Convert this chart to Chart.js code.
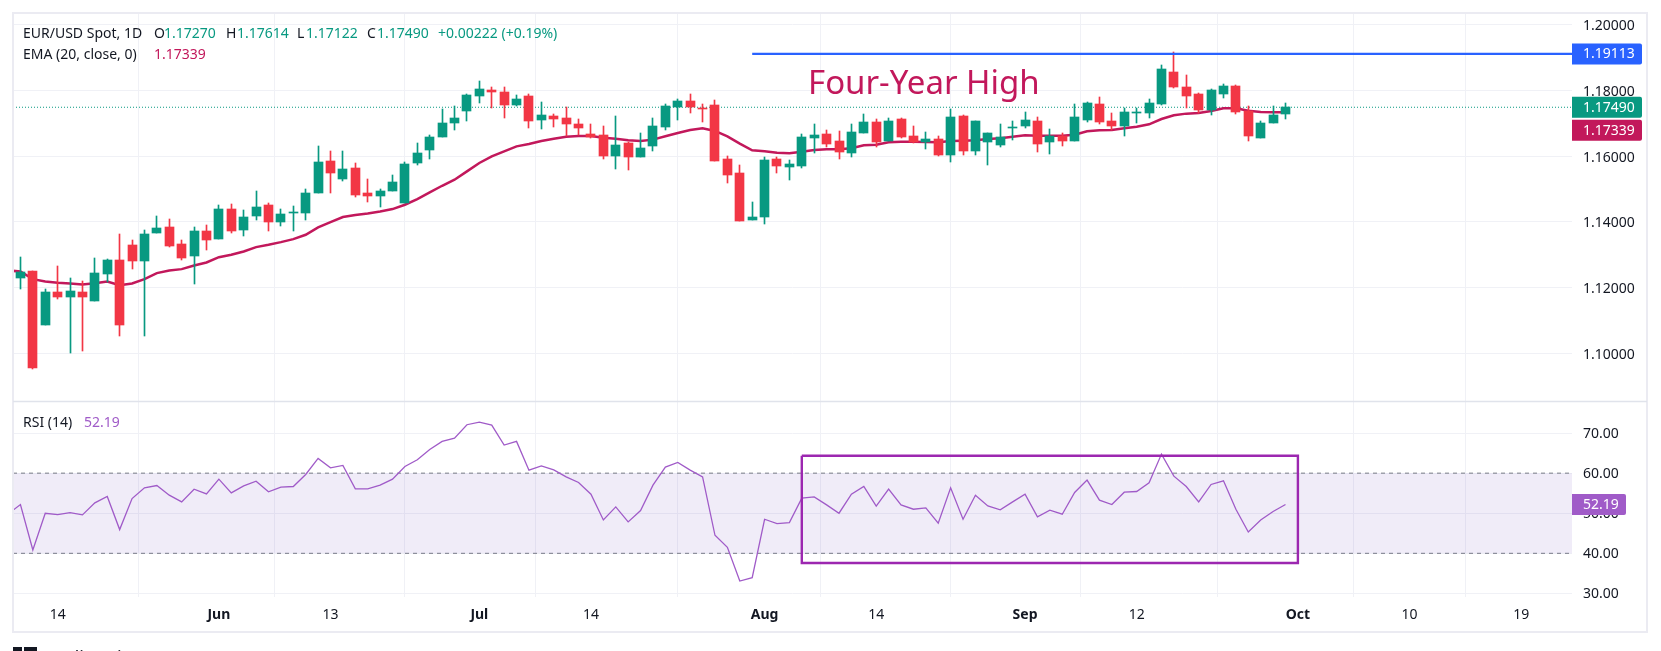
<!DOCTYPE html>
<html><head><meta charset="utf-8">
<style>html,body{margin:0;padding:0;background:#fff}canvas{display:block}</style>
<script src="https://cdn.jsdelivr.net/npm/chart.js@4"></script>
</head><body><canvas id="c" width="1661" height="651"></canvas>
<script>
const tickIndex=[3,16,25,37,46,60,69,81,90,103,112,121];
const tickLabels=['14','Jun','13','Jul','14','Aug','14','Sep','12','Oct','10','19'];
const monthLabels=['Jun','Jul','Aug','Sep','Oct'];
const opens=[1.12276,1.12510,1.10873,1.11869,1.11727,1.11869,1.11605,1.12418,1.12845,1.13303,
1.12794,1.13648,1.13851,1.13333,1.12947,1.13729,1.13465,1.14400,1.13739,1.14166,
1.14522,1.13983,1.14257,1.14257,1.14867,1.15863,1.15314,1.15649,1.14887,1.14776,
1.14928,1.14562,1.15781,1.16178,1.16575,1.17001,1.17367,1.17824,1.18028,1.17967,
1.17570,1.17845,1.17092,1.17235,1.17174,1.16991,1.16687,1.16656,1.15996,1.16412,
1.15965,1.16300,1.16899,1.17509,1.17692,1.17448,1.17570,1.15924,1.15497,1.14064,
1.14156,1.15924,1.15680,1.15710,1.16565,1.16687,1.16473,1.16107,1.16717,1.17052,
1.16473,1.17143,1.16626,1.16443,1.16534,1.16046,1.17235,1.16168,1.16443,1.16351,
1.16849,1.16930,1.17082,1.16443,1.16626,1.16473,1.17113,1.17601,1.17082,1.16930,
1.17326,1.17326,1.17601,1.18577,1.18119,1.17906,1.17418,1.17906,1.18150,1.17387,
1.16565,1.17021,1.17270];
const highs=[1.12936,1.12510,1.11961,1.12662,1.12296,1.12205,1.12906,1.12875,1.13638,1.13455,
1.13760,1.14186,1.14095,1.13455,1.13851,1.13912,1.14522,1.14552,1.14369,1.14948,
1.14583,1.14400,1.14491,1.15009,1.16321,1.16168,1.16168,1.15802,1.15314,1.15009,
1.15436,1.15832,1.16412,1.16656,1.17448,1.17540,1.17906,1.18302,1.18119,1.18119,
1.17876,1.17906,1.17662,1.17296,1.17509,1.17143,1.16991,1.16930,1.17235,1.16443,
1.16717,1.17174,1.17601,1.17754,1.17906,1.17601,1.17723,1.16016,1.15741,1.14613,
1.15985,1.15985,1.15894,1.16687,1.16991,1.16808,1.16778,1.16991,1.17296,1.17143,
1.17174,1.17174,1.16930,1.16748,1.16626,1.17448,1.17266,1.17082,1.16717,1.16991,
1.17082,1.17357,1.17205,1.16839,1.16717,1.17601,1.17662,1.17814,1.17326,1.17479,
1.17479,1.17754,1.18790,1.19187,1.18486,1.17937,1.18058,1.18211,1.18180,1.17540,
1.17082,1.17540,1.17614];
const lows=[1.11971,1.09522,1.10873,1.11666,1.10019,1.10070,1.11605,1.12174,1.10538,1.12571,
1.10538,1.13648,1.13241,1.12845,1.12113,1.13150,1.13465,1.13668,1.13577,1.14064,
1.13729,1.13881,1.13729,1.14064,1.14867,1.14887,1.15253,1.14766,1.14613,1.14461,
1.14928,1.14562,1.15741,1.15924,1.16575,1.16808,1.17082,1.17631,1.17479,1.17174,
1.17540,1.16869,1.16839,1.16899,1.16626,1.16656,1.16565,1.15924,1.15619,1.15588,
1.15965,1.16168,1.16808,1.17113,1.17326,1.17052,1.15863,1.15192,1.14034,1.14064,
1.13943,1.15497,1.15283,1.15649,1.16107,1.16290,1.15924,1.15985,1.16717,1.16290,
1.16473,1.16565,1.16412,1.16229,1.16016,1.15832,1.16046,1.16046,1.15741,1.16290,
1.16483,1.16869,1.16138,1.16077,1.16321,1.16473,1.17052,1.16991,1.16808,1.16626,
1.17021,1.17174,1.17570,1.18089,1.17479,1.17326,1.17266,1.17784,1.17296,1.16473,
1.16565,1.17021,1.17122];
const closes=[1.12479,1.09552,1.11869,1.11727,1.11900,1.11727,1.12449,1.12845,1.10873,1.12794,
1.13638,1.13821,1.13272,1.12906,1.13729,1.13455,1.14400,1.13729,1.14156,1.14461,
1.13983,1.14247,1.14278,1.14887,1.15832,1.15476,1.15619,1.14806,1.14776,1.14948,
1.15223,1.15771,1.16107,1.16595,1.17021,1.17174,1.17876,1.18058,1.17967,1.17550,
1.17754,1.17062,1.17266,1.17143,1.16991,1.16869,1.16595,1.15996,1.16351,1.15965,
1.16260,1.16930,1.17540,1.17692,1.17509,1.17428,1.15863,1.15436,1.14034,1.14156,
1.15894,1.15710,1.15771,1.16595,1.16656,1.16382,1.16138,1.16748,1.17052,1.16443,
1.17082,1.16595,1.16443,1.16534,1.16046,1.17205,1.16168,1.17082,1.16717,1.16585,
1.16869,1.17113,1.16382,1.16626,1.16473,1.17205,1.17631,1.17052,1.16930,1.17357,
1.17347,1.17631,1.18668,1.18119,1.17845,1.17418,1.18028,1.18150,1.17357,1.16626,
1.17021,1.17266,1.17490];
const ema=[1.12490,1.12256,1.12184,1.12144,1.12123,1.12093,1.12133,1.12184,1.12072,1.12123,
1.12256,1.12439,1.12520,1.12561,1.12673,1.12764,1.12926,1.12997,1.13099,1.13231,
1.13303,1.13384,1.13475,1.13607,1.13831,1.13994,1.14146,1.14207,1.14257,1.14319,
1.14390,1.14522,1.14694,1.14897,1.15100,1.15283,1.15537,1.15792,1.15996,1.16148,
1.16300,1.16371,1.16463,1.16534,1.16595,1.16616,1.16616,1.16565,1.16534,1.16483,
1.16463,1.16504,1.16605,1.16707,1.16798,1.16849,1.16768,1.16605,1.16382,1.16178,
1.16148,1.16107,1.16087,1.16138,1.16189,1.16209,1.16209,1.16240,1.16331,1.16351,
1.16422,1.16443,1.16443,1.16433,1.16422,1.16463,1.16473,1.16483,1.16524,1.16544,
1.16595,1.16636,1.16626,1.16626,1.16626,1.16656,1.16758,1.16788,1.16798,1.16849,
1.16899,1.16971,1.17133,1.17245,1.17296,1.17316,1.17377,1.17458,1.17458,1.17387,
1.17347,1.17336,1.17339];
const rsi=[52.17,40.83,50.00,49.67,50.17,49.58,52.58,54.17,45.92,53.67,
56.33,56.92,54.50,52.83,56.00,54.83,58.50,55.08,56.83,58.00,
55.33,56.50,56.67,59.67,63.67,61.33,61.92,56.08,56.08,57.00,
58.50,61.67,63.33,65.92,67.92,68.75,72.08,72.75,72.00,67.00,
67.92,60.75,61.83,60.83,59.08,57.67,54.75,48.33,51.58,47.83,
50.67,57.00,61.50,62.67,60.75,59.08,44.50,41.50,33.08,33.92,
48.50,47.42,47.67,53.75,54.08,52.08,50.00,54.75,56.67,51.75,
56.00,52.08,51.00,51.33,47.50,56.33,48.50,54.50,51.83,50.83,
52.83,54.75,49.08,50.75,49.75,55.17,58.25,53.25,52.17,55.25,
55.42,57.58,64.75,59.25,56.67,52.83,57.17,58.08,51.00,45.33,
48.33,50.42,52.19];
const emaBefore=1.12520, rsiBefore=49.8;
const resistance=1.19113, resistanceStart=59;
const lastClose=1.17490, lastEma=1.17339, lastRsi=52.19;
const boxLeft=63, boxRight=103, boxTop=64.33, boxBottom=37.58;
const rsiUpper=60, rsiLower=40;

const UP='#089981', DOWN='#F23645', INK='#131722', EMA='#C2185B', RSI='#A05BC8', BLUE='#2962FF', BOX='#9C27B0';
const FONT='"Noto Sans"';
const XMIN=-0.6, XMAX=125.1;
const idx=opens.map((_,i)=>i);
const colors=idx.map(i=>closes[i]>=opens[i]?UP:DOWN);
const fullSpan=(v)=>[{x:XMIN,y:v},{x:XMAX,y:v}];
const fitY=(s)=>{s.width=75;s.paddingTop=0;s.paddingBottom=0;};

const overlay={id:'overlay',
 afterDatasetsUpdate(ch){
  [0,1].forEach(d=>ch.getDatasetMeta(d).data.forEach(el=>{
    el.x=Math.floor(el.x)+0.5;
    el.y=Math.round(el.y);el.base=Math.round(el.base);
    if(el.y===el.base)el.base=el.y+1;
  }));
 },
 afterDraw(ch){
  const c=ch.ctx,a=ch.chartArea,y=ch.scales.y,y2=ch.scales.y2;
  c.save();
  c.strokeStyle='#EBEBF2';c.lineWidth=2;
  c.strokeRect(13,13,1634,619);
  c.strokeStyle='#E0E3EB';c.lineWidth=1.5;
  c.beginPath();c.moveTo(13,401.5);c.lineTo(1647,401.5);c.stroke();
  const tag=(txt,cy,col,w)=>{
    c.fillStyle=col;c.beginPath();c.roundRect(a.right,cy-10.5,w,21,[0,2,2,0]);c.fill();
    c.fillStyle='#fff';c.font='14px '+FONT;c.textAlign='left';c.textBaseline='middle';
    c.fillText(txt,1583,cy+0.5);
  };
  const pc=y.getPixelForValue(lastClose);
  tag(resistance.toFixed(5),y.getPixelForValue(resistance),BLUE,70);
  tag(lastClose.toFixed(5),pc,UP,70);
  tag(lastEma.toFixed(5),pc+23,EMA,70);
  tag(lastRsi.toFixed(2),y2.getPixelForValue(lastRsi),RSI,54);
  c.textBaseline='middle';c.textAlign='left';c.font='14px '+FONT;
  const seg=(t,x,yy,col)=>{c.fillStyle=col;c.fillText(t,x,yy);};
  seg('EUR/USD Spot, 1D',23,34,INK);
  seg('O',154,34,INK);seg('1.17270',164,34,UP);
  seg('H',226,34,INK);seg('1.17614',237,34,UP);
  seg('L',297,34,INK);seg('1.17122',306,34,UP);
  seg('C',367,34,INK);seg('1.17490',377,34,UP);
  seg('+0.00222 (+0.19%)',438,34,UP);
  seg('EMA (20, close, 0)',23,55,INK);seg('1.17339',154,55,EMA);
  seg('RSI (14)',23,423,INK);seg('52.19',84,423,RSI);
  c.font='33px '+FONT;c.fillStyle=EMA;c.textBaseline='alphabetic';
  c.fillText('Four-Year High',808,94);
  c.fillStyle=INK;
  c.fillRect(13,647,9,4);c.fillRect(24,647,13,4);
  c.font='18px '+FONT;
  c.fillText('TradingView',42,664);
  c.restore();
}};

new Chart(document.getElementById('c'),{
  type:'bar',
  plugins:[overlay],
  data:{datasets:[
    {label:'Body',yAxisID:'y',order:1,grouped:false,barThickness:9,minBarLength:1,
     data:idx.map(i=>({x:i,y:[opens[i],closes[i]]})),backgroundColor:colors,borderWidth:0},
    {label:'Wick',yAxisID:'y',order:2,grouped:false,barThickness:1,
     data:idx.map(i=>({x:i,y:[lows[i],highs[i]]})),backgroundColor:colors,borderWidth:0},
    {label:'EMA (20)',type:'line',yAxisID:'y',order:3,
     data:[{x:-1,y:emaBefore}].concat(idx.map(i=>({x:i,y:ema[i]}))),
     borderColor:EMA,borderWidth:2.5,pointRadius:0,tension:0},
    {label:'Last',type:'line',yAxisID:'y',order:4,data:fullSpan(lastClose),
     borderColor:UP,borderWidth:1,borderDash:[1,2],pointRadius:0},
    {label:'Four-Year High',type:'line',yAxisID:'y',order:0,
     data:[{x:resistanceStart,y:resistance},{x:XMAX,y:resistance}],
     borderColor:BLUE,borderWidth:2.2,pointRadius:0},
    {label:'RSI',type:'line',yAxisID:'y2',order:3,
     data:[{x:-1,y:rsiBefore}].concat(idx.map(i=>({x:i,y:rsi[i]}))),
     borderColor:RSI,borderWidth:1.3,pointRadius:0,tension:0},
    {label:'Box',type:'line',yAxisID:'y2',order:0,
     data:[{x:boxLeft,y:boxTop},{x:boxRight,y:boxTop},{x:boxRight,y:boxBottom},{x:boxLeft,y:boxBottom},{x:boxLeft,y:boxTop}],
     borderColor:BOX,borderWidth:2.4,pointRadius:0,borderJoinStyle:'miter',tension:0},
    {label:'Upper',type:'line',yAxisID:'y2',order:5,data:fullSpan(rsiUpper),
     borderColor:'#787B86',borderWidth:1,borderDash:[4,4],pointRadius:0,
     fill:{value:rsiLower},backgroundColor:'rgba(126,87,194,0.115)'},
    {label:'Lower',type:'line',yAxisID:'y2',order:5,data:fullSpan(rsiLower),
     borderColor:'#787B86',borderWidth:1,borderDash:[4,4],pointRadius:0}
  ]},
  options:{
    responsive:false,animation:false,devicePixelRatio:1,
    layout:{padding:{left:13,top:13,right:14,bottom:19}},
    plugins:{legend:{display:false},tooltip:{enabled:false}},
    scales:{
      x:{type:'linear',min:XMIN,max:XMAX,offset:false,
         afterBuildTicks(s){s.ticks=tickIndex.map(v=>({value:v}));},
         afterFit(s){s.height=35;s.paddingLeft=0;s.paddingRight=0;},
         border:{display:false},
         grid:{color:'#F0F1F6',drawTicks:false},
         ticks:{autoSkip:false,maxRotation:0,padding:10,color:INK,
           callback(v){return tickLabels[tickIndex.indexOf(v)];},
           font(ctx){const l=ctx.tick&&tickLabels[tickIndex.indexOf(ctx.tick.value)];
             return {family:'"Noto Sans"',size:14,weight:monthLabels.includes(l)?'bold':'normal'};}}},
      y:{type:'linear',position:'right',stack:'panes',stackWeight:388,min:1.08546,max:1.2036,
         afterFit:fitY,border:{display:false},
         grid:{color:'#F0F1F6',drawTicks:false},
         ticks:{stepSize:0.02,includeBounds:false,padding:11,labelOffset:1.5,color:INK,font:{family:'"Noto Sans"',size:14},
           callback(v){return v.toFixed(5);}}},
      y2:{type:'linear',position:'right',stack:'panes',stackWeight:196,min:29.1,max:78.0,
         afterFit:fitY,border:{display:false},
         grid:{color:'#F0F1F6',drawTicks:false},
         ticks:{stepSize:10,includeBounds:false,padding:11,labelOffset:1,color:INK,font:{family:'"Noto Sans"',size:14},
           callback(v){return v.toFixed(2);}}}
    }
  }
});
</script></body></html>
